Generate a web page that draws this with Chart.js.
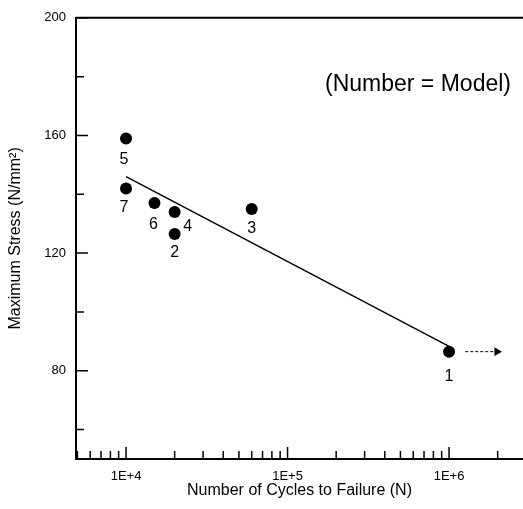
<!DOCTYPE html>
<html>
<head>
<meta charset="utf-8">
<script src="https://cdn.jsdelivr.net/npm/chart.js@4"></script>
<style>
  html, body { margin: 0; padding: 0; background: #fff; }
  #wrap { width: 523px; height: 509px; }
</style>
</head>
<body>
<div id="wrap"><canvas id="sn_chart"></canvas></div>
<script>
// fatigue test results, label = model number
const models = ['1', '2', '3', '4', '5', '6', '7'];
const cycles = [1e6, 2e4, 6e4, 2e4, 1e4, 1.5e4, 1e4];
const stress = [86.5, 126.5, 135, 134, 159, 137, 142];

// fitted S-N line
const fitCycles = [1e4, 1e6];
const fitStress = [146, 88.3];

// run-out arrow on model 1
const arrowCycles = [1.26e6, 1.98e6];
const arrowStress = [86.5, 86.5];

const xTicks = [1e4, 1e5, 1e6];
const yTicks = [80, 120, 160, 200];
const yMinor = [60, 100, 140, 180];
const xMinor = [];
for (let d = 1e3; d <= 1e6; d *= 10) {
    for (let m = 2; m <= 9; m++) {
        const v = m * d;
        if (v >= 5e3 && v <= 2e6) xMinor.push(v);
    }
}

const FONT = "'Liberation Sans', Arial, sans-serif";

// label offsets next to each point (dx, dy in px)
const labelShift = {
    '1': [0, 25], '2': [0, 19], '3': [0, 20], '4': [13, 15],
    '5': [-2, 21], '6': [-1, 21], '7': [-2, 19]
};

const extras = {
    id: 'extras',
    afterDraw(chart) {
        const ctx = chart.ctx;
        const a = chart.chartArea;
        const xs = chart.scales.x;
        const ys = chart.scales.y;
        ctx.save();
        ctx.strokeStyle = '#000';
        ctx.lineWidth = 1.5;
        ctx.beginPath();
        yTicks.forEach(v => {
            const p = ys.getPixelForValue(v);
            ctx.moveTo(a.left, p); ctx.lineTo(a.left + 12, p);
        });
        yMinor.forEach(v => {
            const p = ys.getPixelForValue(v);
            ctx.moveTo(a.left, p); ctx.lineTo(a.left + 8, p);
        });
        xTicks.forEach(v => {
            const p = xs.getPixelForValue(v);
            ctx.moveTo(p, a.bottom); ctx.lineTo(p, a.bottom - 12);
        });
        xMinor.forEach(v => {
            const p = xs.getPixelForValue(v);
            ctx.moveTo(p, a.bottom); ctx.lineTo(p, a.bottom - 8);
        });
        ctx.stroke();

        // top frame line
        ctx.lineWidth = 2;
        ctx.beginPath();
        ctx.moveTo(a.left, a.top);
        ctx.lineTo(a.right, a.top);
        ctx.stroke();

        // model numbers
        ctx.fillStyle = '#000';
        ctx.font = '16px ' + FONT;
        ctx.textAlign = 'center';
        ctx.textBaseline = 'middle';
        models.forEach((m, i) => {
            const px = xs.getPixelForValue(cycles[i]);
            const py = ys.getPixelForValue(stress[i]);
            const s = labelShift[m];
            ctx.fillText(m, px + s[0], py + s[1]);
        });

        ctx.font = '23px ' + FONT;
        ctx.fillText('(Number = Model)', a.left + 342, a.top + 67);
        ctx.restore();
    }
};

var ctx = document.getElementById('sn_chart').getContext('2d');
var snChart = new Chart(ctx, {
    type: 'scatter',
    data: {
        datasets: [{
            data: cycles.map((c, i) => ({ x: c, y: stress[i] })),
            pointRadius: 6,
            pointBackgroundColor: '#000',
            pointBorderWidth: 0,
            showLine: false
        }, {
            data: fitCycles.map((c, i) => ({ x: c, y: fitStress[i] })),
            showLine: true,
            borderColor: '#000',
            borderWidth: 1.5,
            pointRadius: 0
        }, {
            data: arrowCycles.map((c, i) => ({ x: c, y: arrowStress[i] })),
            showLine: true,
            borderColor: '#000',
            borderWidth: 1,
            borderDash: [3, 2],
            pointRadius: [0, 5],
            pointStyle: 'triangle',
            rotation: 90,
            pointBackgroundColor: '#000',
            pointBorderWidth: 0
        }]
    },
    options: {
        responsive: true,
        maintainAspectRatio: false,
        animation: false,
        layout: { autoPadding: false, padding: { top: 13, right: 0, left: 0, bottom: 0 } },
        plugins: {
            legend: { display: false },
            tooltip: { enabled: false }
        },
        scales: {
            x: {
                type: 'logarithmic',
                min: 4900,
                max: 2.87e6,
                afterBuildTicks: s => { s.ticks = xTicks.map(v => ({ value: v })); },
                afterFit: s => { s.height = 50; },
                grid: { display: false, drawTicks: false },
                border: { color: '#000', width: 2 },
                ticks: {
                    color: '#000',
                    font: { family: FONT, size: 13 },
                    padding: 10,
                    maxRotation: 0,
                    autoSkip: false,
                    callback: v => '1E+' + Math.round(Math.log10(v))
                },
                title: {
                    display: true,
                    text: 'Number of Cycles to Failure (N)',
                    color: '#000',
                    font: { family: FONT, size: 16 },
                    padding: { top: 0, bottom: 9 }
                }
            },
            y: {
                min: 50,
                max: 200,
                afterBuildTicks: s => { s.ticks = yTicks.map(v => ({ value: v })); },
                afterFit: s => { s.width = 76; },
                grid: { display: false, drawTicks: false },
                border: { color: '#000', width: 2 },
                ticks: {
                    color: '#000',
                    font: { family: FONT, size: 13 },
                    padding: 10
                },
                title: {
                    display: true,
                    text: 'Maximum Stress (N/mm²)',
                    color: '#000',
                    font: { family: FONT, size: 16 },
                    padding: { top: 6, bottom: 0 }
                }
            }
        }
    },
    plugins: [extras]
});
</script>
</body>
</html>
